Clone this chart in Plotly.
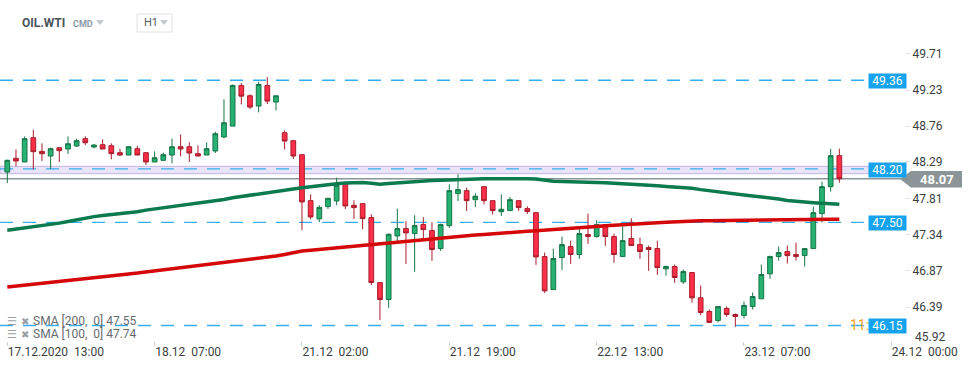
import plotly.graph_objects as go

# ---------------- data ----------------
opens = [48.159,48.338,48.29,48.608,48.429,48.368,48.477,48.46,48.499,48.595,
         48.486,48.516,48.503,48.412,48.381,48.464,48.412,48.29,48.312,48.381,
         48.49,48.49,48.399,48.381,48.434,48.617,48.76,49.292,49.157,49.022,
         49.292,49.074,48.673,48.569,48.386,47.784,47.545,47.706,47.78,48.007,
         47.723,47.745,47.562,46.712,46.49,47.322,47.418,47.353,47.471,47.392,
         47.157,47.457,47.876,47.915,47.797,47.967,47.784,47.64,47.654,47.784,
         47.68,47.627,47.052,46.62,47.039,47.183,47.079,47.34,47.314,47.471,
         47.314,47.052,47.288,47.209,47.17,47.157,46.891,46.921,46.721,46.843,
         46.512,46.333,46.216,46.373,46.294,46.281,46.399,46.499,46.826,47.052,
         47.118,47.079,47.065,47.157,47.614,47.967,48.373]
highs = [48.32,48.455,48.625,48.712,48.534,48.477,48.481,48.625,48.595,48.625,
         48.521,48.586,48.534,48.464,48.49,48.503,48.412,48.429,48.412,48.595,
         48.651,48.547,48.508,48.547,48.686,49.109,49.305,49.322,49.174,49.34,
         49.401,49.157,48.704,48.569,48.386,47.867,47.723,47.815,48.085,48.007,
         47.789,47.745,47.606,46.712,47.353,47.68,47.514,47.593,47.567,47.501,
         47.484,47.998,48.129,47.954,47.88,47.967,47.784,47.867,47.832,47.784,
         47.71,47.627,47.105,47.157,47.314,47.261,47.414,47.614,47.527,47.471,
         47.353,47.444,47.553,47.301,47.196,47.261,46.934,46.948,46.882,46.843,
         46.673,46.359,46.399,46.399,46.307,46.464,46.582,46.948,47.065,47.183,
         47.196,47.235,47.157,47.706,48.033,48.464,48.464]
lows = [48.015,48.233,48.29,48.194,48.303,48.198,48.29,48.394,48.486,48.512,
        48.468,48.46,48.325,48.368,48.381,48.381,48.251,48.29,48.303,48.272,
        48.364,48.29,48.368,48.381,48.407,48.603,48.76,49.044,48.983,48.939,
        49.048,48.965,48.455,48.329,47.396,47.54,47.505,47.675,47.723,47.675,
        47.545,47.41,46.678,46.22,46.381,47.253,46.956,46.852,47.266,46.996,
        47.126,47.427,47.78,47.649,47.702,47.736,47.601,47.584,47.654,47.649,
        47.61,46.943,46.577,46.62,46.878,46.956,47.022,47.218,47.301,47.192,
        46.97,47.052,47.196,47.022,46.865,46.813,46.8,46.708,46.695,46.447,
        46.285,46.19,46.19,46.264,46.133,46.242,46.359,46.499,46.761,46.999,
        46.961,46.999,46.922,47.157,47.497,47.902,48.02]
closes = [48.312,48.303,48.595,48.425,48.399,48.464,48.438,48.529,48.569,48.542,
          48.512,48.46,48.399,48.381,48.49,48.381,48.29,48.346,48.386,48.49,
          48.46,48.407,48.368,48.464,48.66,48.804,49.292,49.152,49.009,49.305,
          49.087,49.157,48.564,48.368,47.767,47.571,47.697,47.815,47.985,47.715,
          47.693,47.549,46.712,46.49,47.344,47.418,47.362,47.457,47.405,47.144,
          47.471,47.915,47.928,47.784,47.841,47.784,47.654,47.671,47.797,47.693,
          47.641,47.048,46.603,47.026,47.209,47.079,47.353,47.314,47.471,47.314,
          47.079,47.261,47.196,47.118,47.144,46.908,46.921,46.778,46.856,46.512,
          46.32,46.19,46.399,46.294,46.268,46.412,46.529,46.817,47.052,47.104,
          47.065,47.052,47.157,47.627,47.967,48.373,48.07]

sma100 = [47.396,47.41,47.425,47.44,47.457,47.472,47.49,47.51,47.535,47.56,
          47.575,47.59,47.60,47.612,47.625,47.64,47.66,47.675,47.692,47.705,
          47.72,47.737,47.757,47.77,47.785,47.80,47.822,47.84,47.857,47.875,
          47.89,47.905,47.92,47.937,47.952,47.968,47.98,47.995,48.005,48.015,
          48.02,48.022,48.012,47.998,48.008,48.018,48.024,48.032,48.04,48.047,
          48.05,48.056,48.062,48.066,48.068,48.069,48.07,48.072,48.073,48.073,
          48.072,48.068,48.05,48.037,48.036,48.035,48.033,48.028,48.022,48.018,
          48.013,48.007,48.0,47.996,47.99,47.978,47.968,47.962,47.957,47.945,
          47.928,47.912,47.897,47.882,47.87,47.857,47.845,47.834,47.82,47.805,
          47.785,47.772,47.764,47.757,47.75,47.742,47.736]
sma200 = [46.655,46.668,46.68,46.693,46.706,46.719,46.732,46.745,46.757,46.77,
          46.782,46.793,46.802,46.813,46.825,46.836,46.85,46.864,46.878,46.892,
          46.903,46.917,46.93,46.943,46.955,46.966,46.98,46.995,47.012,47.027,
          47.043,47.06,47.08,47.103,47.124,47.135,47.146,47.157,47.168,47.179,
          47.19,47.2,47.21,47.22,47.229,47.24,47.252,47.262,47.272,47.28,
          47.289,47.3,47.312,47.323,47.334,47.342,47.352,47.362,47.37,47.376,
          47.383,47.39,47.397,47.403,47.408,47.418,47.428,47.437,47.447,47.456,
          47.464,47.468,47.472,47.48,47.487,47.494,47.5,47.507,47.515,47.518,
          47.52,47.522,47.524,47.526,47.528,47.53,47.532,47.534,47.535,47.536,
          47.537,47.538,47.538,47.539,47.539,47.54,47.54]

x_tick_pos = [0, 17, 34, 51, 68, 85, 102]
x_tick_labels = ["17.12.2020  13:00", "18.12  07:00", "21.12  02:00", "21.12  19:00",
                 "22.12  13:00", "23.12  07:00", "24.12  00:00"]
y_tick_vals = [49.71, 49.23, 48.76, 48.29, 47.81, 47.34, 46.87, 46.39]
y_bottom_label = 45.92

level_lines = [49.36, 48.20, 47.50, 46.15]
zone_low, zone_high = 48.137, 48.233
last_price = 48.07
sma200_last, sma100_last = 47.55, 47.74

# ---------------- layout helpers (pixels -> paper) ----------------
W, H = 974, 368
ML, MR, MT, MB = 0, 70, 40, 27
PW, PH = W - ML - MR, H - MT - MB
def PX(x): return (x - ML) / PW
def PY(y): return (H - MB - y) / PH

idx = list(range(len(opens)))

fig = go.Figure()

fig.add_trace(go.Candlestick(
    x=idx, open=opens, high=highs, low=lows, close=closes,
    increasing=dict(fillcolor="#27b172", line=dict(color="#177548", width=1)),
    decreasing=dict(fillcolor="#fb2f48", line=dict(color="#a81d2c", width=1)),
    showlegend=False, hoverinfo="skip"))

fig.add_trace(go.Scatter(x=idx, y=sma200, mode="lines",
                         line=dict(color="#d40808", width=3.5), showlegend=False, hoverinfo="skip"))
fig.add_trace(go.Scatter(x=idx, y=sma100, mode="lines",
                         line=dict(color="#0b7a4e", width=3.5), showlegend=False, hoverinfo="skip"))

shapes = []
shapes.append(dict(type="rect", xref="paper", yref="y", x0=0, x1=PX(869),
                   y0=zone_low, y1=zone_high, fillcolor="rgba(190,175,235,0.35)",
                   line=dict(color="#c4b4e6", width=1), layer="below"))
for lv in level_lines:
    shapes.append(dict(type="line", xref="paper", yref="y", x0=0, x1=PX(869), y0=lv, y1=lv,
                       line=dict(color="#35aef0", width=1.3, dash="13px,10px"), layer="below"))
shapes.append(dict(type="line", xref="paper", yref="y", x0=0, x1=PX(901),
                   y0=last_price, y1=last_price, line=dict(color="#8b9497", width=1.5), layer="below"))
shapes.append(dict(type="path", xref="paper", yref="paper",
                   path=f"M {PX(900)},{PY(179)} L {PX(911)},{PY(171)} L {PX(962)},{PY(171)} "
                        f"L {PX(962)},{PY(187.5)} L {PX(911)},{PY(187.5)} Z",
                   fillcolor="#8b9497", line=dict(width=0)))
shapes.append(dict(type="rect", xref="paper", yref="paper", x0=PX(137), x1=PX(172),
                   y0=PY(32), y1=PY(14), line=dict(color="#dfe3e6", width=1), fillcolor="white"))
for cx in (100, 164):
    shapes.append(dict(type="path", xref="paper", yref="paper",
                       path=f"M {PX(cx-4)},{PY(20)} L {PX(cx+4)},{PY(20)} L {PX(cx)},{PY(25)} Z",
                       fillcolor="#c3c8cc", line=dict(width=0)))

ann = []
ann.append(dict(xref="paper", yref="y", x=PX(848), y=46.15, xanchor="left", yanchor="middle",
                text="11:02", showarrow=False, font=dict(family="Roboto", size=14, color="#f7a11a")))
for lv in level_lines:
    ann.append(dict(xref="paper", yref="y", x=PX(887.5), y=lv, xanchor="center", yanchor="middle",
                    yshift=-1, text=f"{lv:.2f}", showarrow=False, bgcolor="#14a3ec",
                    width=35, height=12, borderpad=1,
                    font=dict(family="Roboto", size=12, color="white")))
ann.append(dict(xref="paper", yref="paper", x=PX(937), y=PY(179.5), xanchor="center", yanchor="middle",
                text="<b>48.07</b>", showarrow=False, font=dict(family="Roboto", size=13, color="white")))
ann.append(dict(xref="paper", yref="paper", x=PX(913), y=PY(337), xanchor="left", yanchor="middle",
                text=f"{y_bottom_label:.2f}", showarrow=False,
                font=dict(family="Roboto", size=12, color="#3c3f42")))
ann.append(dict(xref="paper", yref="paper", x=PX(20), y=PY(23), xanchor="left", yanchor="middle",
                text="<b>OIL.WTI</b>", showarrow=False, font=dict(family="Roboto", size=12, color="#4b545b")))
ann.append(dict(xref="paper", yref="paper", x=PX(71), y=PY(24), xanchor="left", yanchor="middle",
                text="<b>CMD</b>", showarrow=False, font=dict(family="Roboto", size=9, color="#8a9aab")))
ann.append(dict(xref="paper", yref="paper", x=PX(142), y=PY(23), xanchor="left", yanchor="middle",
                text="H1", showarrow=False, font=dict(family="Roboto", size=11, color="#555b60")))
for yy, txt in ((321, f"SMA [200,  0] {sma200_last:.2f}"), (334, f"SMA [100,  0] {sma100_last:.2f}")):
    ann.append(dict(xref="paper", yref="paper", x=PX(5), y=PY(yy), xanchor="left", yanchor="middle",
                    text="☰", showarrow=False, font=dict(family="DejaVu Sans", size=11, color="#9aa0a5")))
    ann.append(dict(xref="paper", yref="paper", x=PX(19), y=PY(yy), xanchor="left", yanchor="middle",
                    text="✖", showarrow=False, font=dict(family="DejaVu Sans", size=10, color="#9aa0a5")))
    ann.append(dict(xref="paper", yref="paper", x=PX(31), y=PY(yy), xanchor="left", yanchor="middle",
                    text=txt, showarrow=False, font=dict(family="Roboto", size=12, color="#666b70")))

x_left = -(7.3 - ML) / 8.667
x_right = x_left + PW / 8.667
y_top = 49.71 + (53.5 - MT) / 76.4
y_bot = 49.71 - (H - MB - 53.5) / 76.4

fig.update_layout(
    width=W, height=H, margin=dict(l=ML, r=MR, t=MT, b=MB),
    paper_bgcolor="white", plot_bgcolor="white", boxgap=0.22,
    shapes=shapes, annotations=ann, hovermode=False,
    xaxis=dict(range=[x_left, x_right], rangeslider=dict(visible=False), showgrid=False,
               zeroline=False, showline=False, tickmode="array", tickvals=x_tick_pos,
               ticktext=x_tick_labels, ticks="outside", ticklen=4, tickcolor="#cfd3d6",
               ticklabelposition="outside right",
               tickfont=dict(family="Roboto", size=12, color="#3c3f42")),
    yaxis=dict(side="right", range=[y_bot, y_top], showgrid=False, zeroline=False, showline=False,
               tickmode="array", tickvals=y_tick_vals, ticktext=[f"{v:.2f}" for v in y_tick_vals],
               ticks="outside", ticklen=5, tickcolor="#dfe2e4",
               tickfont=dict(family="Roboto", size=12, color="#3c3f42")),
)

fig.write_html("out.html", config={"displayModeBar": False},
               post_script="document.body.style.margin='0';document.body.style.overflow='hidden';")
